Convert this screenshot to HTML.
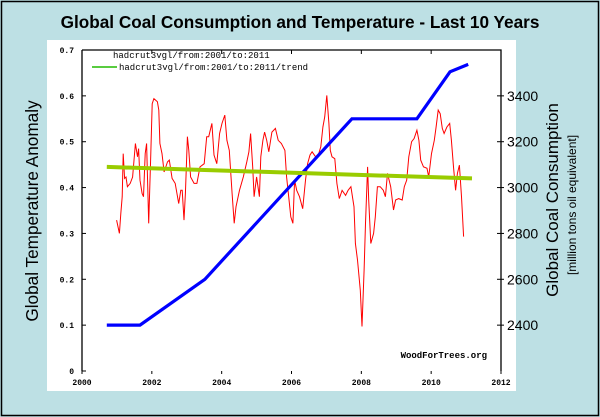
<!DOCTYPE html>
<html><head><meta charset="utf-8"><style>
body{margin:0;width:600px;height:417px;overflow:hidden;background:#bde0e4;font-family:"Liberation Sans",sans-serif}
svg{display:block}
</style></head><body>
<svg id="c" width="600" height="417" xmlns="http://www.w3.org/2000/svg">
<rect x="1.5" y="1.5" width="597" height="414" fill="#bde0e4" stroke="#000" stroke-width="1.5"/>
<rect x="47" y="40" width="469" height="351" fill="#fff"/>
<text x="300" y="28" text-anchor="middle" font-size="17.2" font-weight="bold">Global Coal Consumption and Temperature - Last 10 Years</text>
<text transform="translate(38,211) rotate(-90)" text-anchor="middle" font-size="17.2">Global Temperature Anomaly</text>
<text transform="translate(558,200) rotate(-90)" text-anchor="middle" font-size="17">Global Coal Consumption</text>
<text transform="translate(576,205) rotate(-90)" text-anchor="middle" font-size="12">[million tons oil equivalent]</text>
<g id="axes"></g>
<g id="marks"></g>
<text x="113" y="58" font-family="Liberation Mono,monospace" font-size="9">hadcrut3vgl/from:2001/to:2011</text>
<line x1="92" y1="67" x2="117" y2="67" stroke="#22bb00" stroke-width="1.5"/>
<text x="119" y="70" font-family="Liberation Mono,monospace" font-size="9">hadcrut3vgl/from:2001/to:2011/trend</text>
<text x="487" y="358" text-anchor="end" font-family="Liberation Mono,monospace" font-size="9" font-weight="bold">WoodForTrees.org</text>
</svg>
<script>
const xTicks=[2000,2002,2004,2006,2008,2010,2012];
const yTicks=[0,0.1,0.2,0.3,0.4,0.5,0.6,0.7];
const yTickLabels=["0","0.1","0.2","0.3","0.4","0.5","0.6","0.7"];
const coalTicks=[2400,2600,2800,3000,3200,3400];
const tempYears=[2000.99,2001.07,2001.11,2001.15,2001.18,2001.22,2001.26,2001.30,2001.38,2001.45,2001.53,2001.59,2001.62,2001.66,2001.72,2001.76,2001.81,2001.85,2001.91,2001.97,2002.01,2002.06,2002.16,2002.20,2002.23,2002.29,2002.35,2002.45,2002.50,2002.58,2002.67,2002.77,2002.83,2002.87,2002.92,2002.96,2003.02,2003.06,2003.11,2003.21,2003.29,2003.38,2003.50,2003.57,2003.63,2003.72,2003.78,2003.86,2003.94,2004.01,2004.09,2004.15,2004.22,2004.30,2004.36,2004.41,2004.51,2004.62,2004.72,2004.78,2004.83,2004.89,2004.93,2005.00,2005.08,2005.12,2005.18,2005.23,2005.29,2005.35,2005.44,2005.54,2005.62,2005.71,2005.81,2005.86,2005.92,2005.98,2006.04,2006.09,2006.15,2006.23,2006.32,2006.40,2006.46,2006.53,2006.59,2006.69,2006.78,2006.84,2006.90,2006.95,2007.01,2007.07,2007.11,2007.16,2007.24,2007.30,2007.37,2007.45,2007.55,2007.62,2007.70,2007.79,2007.83,2007.89,2007.97,2008.02,2008.08,2008.12,2008.18,2008.21,2008.27,2008.35,2008.40,2008.46,2008.54,2008.63,2008.69,2008.75,2008.84,2008.92,2008.98,2009.07,2009.17,2009.23,2009.30,2009.36,2009.44,2009.51,2009.59,2009.65,2009.70,2009.78,2009.88,2009.93,2010.01,2010.09,2010.14,2010.20,2010.26,2010.32,2010.37,2010.45,2010.53,2010.58,2010.64,2010.70,2010.75,2010.81,2010.87,2010.93];
const tempValues=[0.329,0.300,0.343,0.380,0.474,0.420,0.423,0.402,0.409,0.423,0.496,0.467,0.485,0.416,0.387,0.380,0.474,0.496,0.322,0.474,0.583,0.594,0.587,0.569,0.496,0.474,0.434,0.456,0.460,0.420,0.409,0.365,0.394,0.394,0.329,0.387,0.511,0.481,0.423,0.409,0.409,0.445,0.452,0.511,0.511,0.540,0.471,0.452,0.518,0.540,0.558,0.503,0.481,0.387,0.322,0.358,0.394,0.423,0.456,0.478,0.518,0.445,0.380,0.423,0.380,0.467,0.503,0.521,0.503,0.478,0.521,0.529,0.503,0.496,0.481,0.423,0.380,0.336,0.322,0.416,0.394,0.380,0.354,0.416,0.452,0.471,0.478,0.467,0.474,0.489,0.532,0.554,0.601,0.540,0.481,0.467,0.463,0.409,0.376,0.394,0.383,0.394,0.402,0.358,0.278,0.242,0.176,0.097,0.220,0.322,0.445,0.373,0.278,0.300,0.336,0.402,0.402,0.394,0.380,0.431,0.402,0.351,0.373,0.376,0.373,0.402,0.416,0.467,0.500,0.507,0.525,0.503,0.460,0.445,0.442,0.423,0.474,0.503,0.532,0.569,0.561,0.529,0.518,0.532,0.540,0.503,0.445,0.394,0.431,0.449,0.380,0.293];
const coalYears=[2000.71,2001.66,2003.52,2007.73,2009.59,2010.54,2011.06];
const coalValues=[2400,2400,2600,3300,3300,3505,3537];
const trendYears=[2000.71,2011.17];
const trendValues=[0.445,0.420];

const NS="http://www.w3.org/2000/svg";
const X0=82,X1=501,Y0=371,Y1=50;
const xs=y=>X0+(y-2000)/12*(X1-X0);
const ys=v=>Y0-v/0.7*(Y0-Y1);
const cs=c=>ys(0.1+(c-2400)/2000);
function mk(tag,attrs,parent){const e=document.createElementNS(NS,tag);for(const k in attrs)e.setAttribute(k,attrs[k]);parent.appendChild(e);return e;}
const ax=document.getElementById('axes'),mg=document.getElementById('marks');
let e=mk('path',{d:`M${X0},${Y1}V${Y0}M${X0},${Y1}H${X1}V${Y0}`,stroke:'#000',fill:'none','stroke-width':1.3},ax);


xTicks.forEach(t=>{const x=xs(t);
 let l=mk('line',{x1:x,x2:x,y1:Y0,y2:Y0+3,stroke:'#000'},ax);
 
 
 l=mk('line',{x1:x,x2:x,y1:Y1,y2:Y1+4,stroke:'#000'},ax);
 
 
 const tx=mk('text',{x:x,y:385,'text-anchor':'middle','font-size':8,'font-family':'Liberation Mono,monospace','font-weight':'bold'},ax);tx.textContent=t;
 
 });
yTicks.forEach((t,i)=>{const y=ys(t);
 let l=mk('line',{x1:X0,x2:X0+4,y1:y,y2:y,stroke:'#000'},ax);
 
 
 const tx=mk('text',{x:74,y:y+3,'text-anchor':'end','font-size':8,'font-family':'Liberation Mono,monospace','font-weight':'bold'},ax);tx.textContent=yTickLabels[i];
 
 });
coalTicks.forEach(t=>{const y=cs(t);
 let l=mk('line',{x1:X1-4,x2:X1+3,y1:y,y2:y,stroke:'#000'},ax);
 
 
 const tx=mk('text',{x:507,y:y+5,'font-size':14},ax);tx.textContent=t;
 
 });
const pts=(xa,va,f)=>xa.map((x,i)=>xs(x).toFixed(1)+','+f(va[i]).toFixed(1)).join(' ');
e=mk('polyline',{points:pts(tempYears,tempValues,ys),fill:'none',stroke:'#ff0000','stroke-width':1},mg);


e=mk('polyline',{points:pts(coalYears,coalValues,cs),fill:'none',stroke:'#0000ff','stroke-width':3.2},mg);


e=mk('polyline',{points:pts(trendYears,trendValues,ys),fill:'none',stroke:'#99cc00','stroke-width':4},mg);


</script>
</body></html>
